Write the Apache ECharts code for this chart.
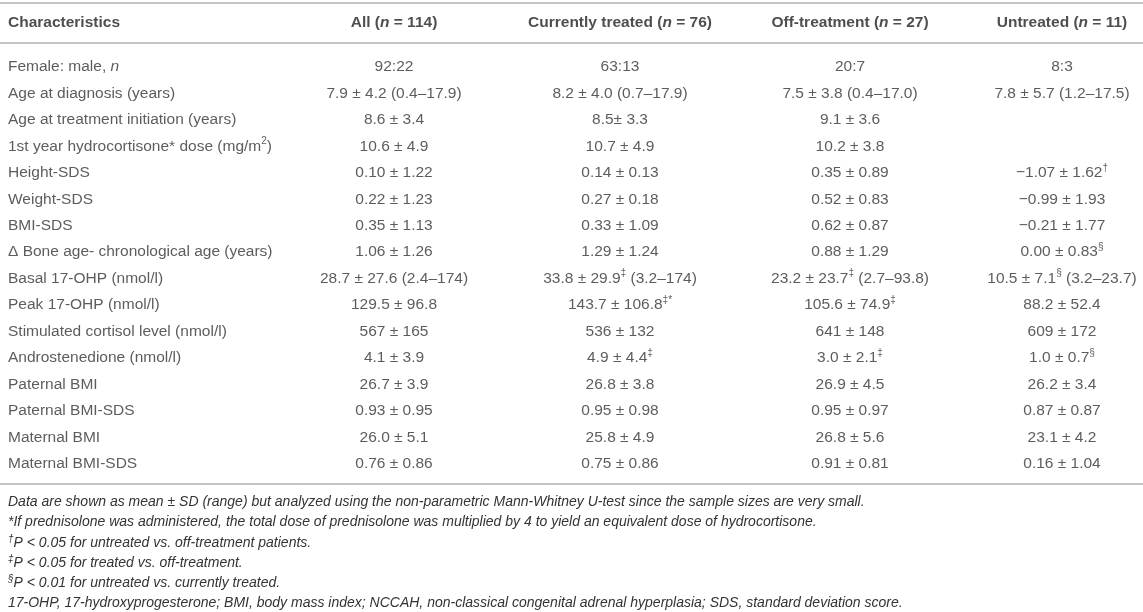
<!DOCTYPE html>
<html>
<head>
<meta charset="utf-8">
<script src="https://cdn.jsdelivr.net/npm/echarts@6/dist/echarts.min.js"></script>
<style>
  html, body { margin: 0; padding: 0; background: #fff; }
  #mainChart { width: 1143px; height: 612px; }
</style>
</head>
<body>
<div id="mainChart"></div>
<script>
// table content ("^" marks a superscript, "_x_" marks italics)
var headers = ['Characteristics', 'All (_n_ = 114)', 'Currently treated (_n_ = 76)', 'Off-treatment (_n_ = 27)', 'Untreated (_n_ = 11)'];

var rowLabels = [
    'Female: male, _n_',
    'Age at diagnosis (years)',
    'Age at treatment initiation (years)',
    '1st year hydrocortisone* dose (mg/m^2)',
    'Height-SDS',
    'Weight-SDS',
    'BMI-SDS',
    '\u0394 Bone age- chronological age (years)',
    'Basal 17-OHP (nmol/l)',
    'Peak 17-OHP (nmol/l)',
    'Stimulated cortisol level (nmol/l)',
    'Androstenedione (nmol/l)',
    'Paternal BMI',
    'Paternal BMI-SDS',
    'Maternal BMI',
    'Maternal BMI-SDS'
];

var allValues = ['92:22', '7.9 \u00b1 4.2 (0.4\u201317.9)', '8.6 \u00b1 3.4', '10.6 \u00b1 4.9', '0.10 \u00b1 1.22', '0.22 \u00b1 1.23', '0.35 \u00b1 1.13', '1.06 \u00b1 1.26', '28.7 \u00b1 27.6 (2.4\u2013174)', '129.5 \u00b1 96.8', '567 \u00b1 165', '4.1 \u00b1 3.9', '26.7 \u00b1 3.9', '0.93 \u00b1 0.95', '26.0 \u00b1 5.1', '0.76 \u00b1 0.86'];

var treatedValues = ['63:13', '8.2 \u00b1 4.0 (0.7\u201317.9)', '8.5\u00b1 3.3', '10.7 \u00b1 4.9', '0.14 \u00b1 0.13', '0.27 \u00b1 0.18', '0.33 \u00b1 1.09', '1.29 \u00b1 1.24', '33.8 \u00b1 29.9^\u2021 (3.2\u2013174)', '143.7 \u00b1 106.8^\u2021*', '536 \u00b1 132', '4.9 \u00b1 4.4^\u2021', '26.8 \u00b1 3.8', '0.95 \u00b1 0.98', '25.8 \u00b1 4.9', '0.75 \u00b1 0.86'];

var offValues = ['20:7', '7.5 \u00b1 3.8 (0.4\u201317.0)', '9.1 \u00b1 3.6', '10.2 \u00b1 3.8', '0.35 \u00b1 0.89', '0.52 \u00b1 0.83', '0.62 \u00b1 0.87', '0.88 \u00b1 1.29', '23.2 \u00b1 23.7^\u2021 (2.7\u201393.8)', '105.6 \u00b1 74.9^\u2021', '641 \u00b1 148', '3.0 \u00b1 2.1^\u2021', '26.9 \u00b1 4.5', '0.95 \u00b1 0.97', '26.8 \u00b1 5.6', '0.91 \u00b1 0.81'];

var untreatedValues = ['8:3', '7.8 \u00b1 5.7 (1.2\u201317.5)', '', '', '\u22121.07 \u00b1 1.62^\u2020', '\u22120.99 \u00b1 1.93', '\u22120.21 \u00b1 1.77', '0.00 \u00b1 0.83^\u00a7', '10.5 \u00b1 7.1^\u00a7 (3.2\u201323.7)', '88.2 \u00b1 52.4', '609 \u00b1 172', '1.0 \u00b1 0.7^\u00a7', '26.2 \u00b1 3.4', '0.87 \u00b1 0.87', '23.1 \u00b1 4.2', '0.16 \u00b1 1.04'];

var footnotes = [
    'Data are shown as mean \u00b1 SD (range) but analyzed using the non-parametric Mann-Whitney U-test since the sample sizes are very small.',
    '*If prednisolone was administered, the total dose of prednisolone was multiplied by 4 to yield an equivalent dose of hydrocortisone.',
    '^\u2020P < 0.05 for untreated vs. off-treatment patients.',
    '^\u2021P < 0.05 for treated vs. off-treatment.',
    '^\u00a7P < 0.01 for untreated vs. currently treated.',
    '17-OHP, 17-hydroxyprogesterone; BMI, body mass index; NCCAH, non-classical congenital adrenal hyperplasia; SDS, standard deviation score.'
];

// layout
var W = 1143, H = 612;
var rowPx0 = 67, rowStep = 26.45;
var yMin = -2.5, yMax = 16;
var colX = [8, 394, 620, 850, 1062];
var headerRow = -1.66;
var ruleRows = [-2.42, -0.907, 15.77];
var footTop = 502.5, footStep = 20.1;
var font = '"Liberation Sans", Arial, Helvetica, sans-serif';

// "^x" -> superscript token, "_x_" -> italic token
function toRich(s, bold) {
    return s
        .replace(/\^([\u2020\u2021\u00a7*0-9]+)/g, '{sup|$1}')
        .replace(/_([^_]+)_/g, bold ? '{bi|$1}' : '{it|$1}');
}

var richStyles = {
    sup: { fontSize: 10, lineHeight: 10, verticalAlign: 'top', fontFamily: font, color: '#333' },
    it: { fontStyle: 'italic', fontSize: 15.5, lineHeight: 20, fontFamily: font, color: '#333' },
    bi: { fontStyle: 'italic', fontWeight: 'bold', fontSize: 15.5, lineHeight: 20, fontFamily: font, color: '#222' }
};

function columnSeries(values, c) {
    var data = [];
    for (var i = 0; i < values.length; i++) {
        if (values[i] === '') continue;
        data.push({ value: [colX[c], i], text: toRich(values[i], false) });
    }
    return {
        type: 'scatter',
        symbolSize: 1,
        clip: false,
        silent: true,
        itemStyle: { color: 'rgba(0,0,0,0)' },
        label: {
            show: true,
            position: 'inside',
            align: c === 0 ? 'left' : 'center',
            verticalAlign: 'middle',
            fontFamily: font,
            fontSize: 15.5,
            lineHeight: 20,
            color: '#333',
            rich: richStyles,
            formatter: function (p) { return p.data.text; }
        },
        data: data
    };
}

var series = [
    columnSeries(rowLabels, 0),
    columnSeries(allValues, 1),
    columnSeries(treatedValues, 2),
    columnSeries(offValues, 3),
    columnSeries(untreatedValues, 4)
];

// header row
series.push({
    type: 'scatter',
    symbolSize: 1,
    clip: false,
    silent: true,
    itemStyle: { color: 'rgba(0,0,0,0)' },
    label: {
        show: true,
        position: 'inside',
        verticalAlign: 'middle',
        fontFamily: font,
        fontSize: 15.5,
        fontWeight: 'bold',
        lineHeight: 20,
        color: '#222',
        rich: richStyles,
        formatter: function (p) { return p.data.text; }
    },
    data: headers.map(function (h, c) {
        return { value: [colX[c], headerRow], text: toRich(h, true), label: { align: c === 0 ? 'left' : 'center' } };
    }),
    markLine: {
        silent: true,
        symbol: 'none',
        animation: false,
        label: { show: false },
        lineStyle: { color: '#c6c6c6', width: 2, type: 'solid' },
        data: ruleRows.map(function (r) { return { yAxis: r }; })
    }
});

var gridTop = rowPx0 + yMin * rowStep;
var gridHeight = (yMax - yMin) * rowStep;

var myChart = echarts.init(document.getElementById('mainChart'), null, { renderer: 'canvas' });

var option = {
    backgroundColor: '#fff',
    animation: false,
    grid: { left: 0, right: 0, top: gridTop, bottom: H - gridTop - gridHeight },
    xAxis: { type: 'value', min: 0, max: W, show: false },
    yAxis: { type: 'value', min: yMin, max: yMax, inverse: true, show: false },
    graphic: footnotes.map(function (f, i) {
        return {
            type: 'text',
            silent: true,
            x: 8,
            y: footTop + i * footStep,
            style: {
                text: toRich(f, false),
                fontFamily: font,
                fontSize: 14,
                fontStyle: 'italic',
                lineHeight: 17,
                fill: '#333',
                verticalAlign: 'middle',
                rich: {
                    sup: { fontSize: 10, lineHeight: 9, verticalAlign: 'top', fontStyle: 'italic', fontFamily: font, fill: '#333' }
                }
            }
        };
    }),
    series: series
};

myChart.setOption(option);
</script>
</body>
</html>
